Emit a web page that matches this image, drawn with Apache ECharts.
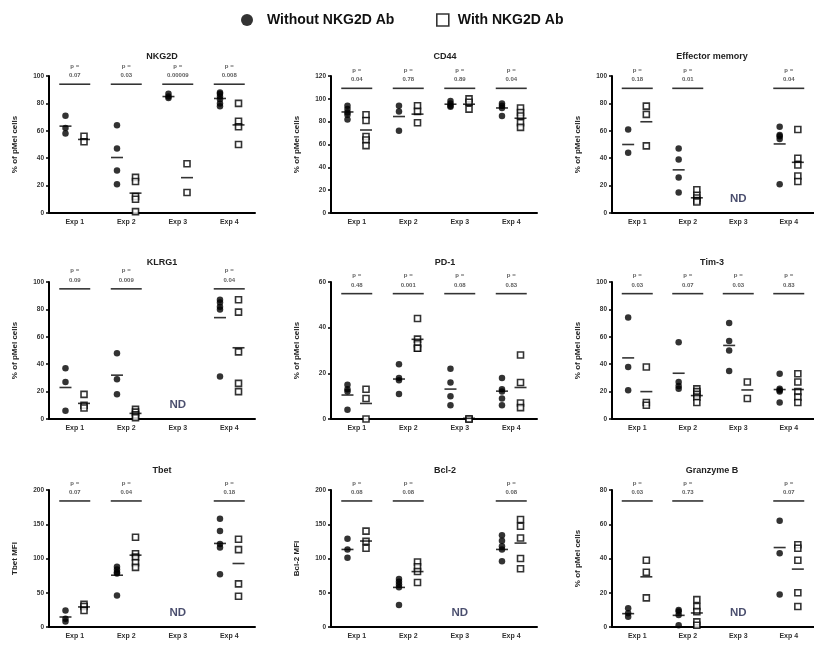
<!DOCTYPE html>
<html><head><meta charset="utf-8">
<script src="https://cdn.jsdelivr.net/npm/echarts/dist/echarts.min.js"></script>
<style>html,body{margin:0;padding:0;background:#fff}#c{width:814px;height:646px}</style>
</head><body><div id="c"></div>
<script>
const categories = ['Exp 1','Exp 2','Exp 3','Exp 4'];
const seriesNames = ['Without NKG2D Ab','With NKG2D Ab'];
const panelTitles = ['NKG2D','CD44','Effector memory','KLRG1','PD-1','Tim-3','Tbet','Bcl-2','Granzyme B'];
const yAxisNames = ['% of pMel cells','% of pMel cells','% of pMel cells','% of pMel cells','% of pMel cells','% of pMel cells','Tbet MFI','Bcl-2 MFI','% of pMel cells'];
const yMaxValues = [100,120,100,100,60,100,200,200,80];
const yTickSteps = [20,20,20,20,20,20,50,50,20];

// NKG2D
const nkg2dWithout = [[71,62,58],[64,47,31,21],[87,85,84],[88,87,85,83,80,78]];
const nkg2dWith = [[56,52],[26,23,12,10,1],[36,15],[80,67,63,50]];
const nkg2dMeanWithout = [63.4,40.5,85,83.6];
const nkg2dMeanWith = [53.7,14.5,25.8,64.3];
const nkg2dP = ['0.07','0.03','0.00009','0.008'];
// CD44
const cd44Without = [[94,91,88,86,82],[94,89,72],[98,96,94,93],[96,94,92,85]];
const cd44With = [[86,81,67,64,59],[94,89,79],[100,97,91],[92,88,85,79,75]];
const cd44MeanWithout = [88.5,84.5,95.3,92];
const cd44MeanWith = [72.7,86.6,95.3,83];
const cd44P = ['0.04','0.78','0.89','0.04'];
// Effector memory
const emWithout = [[61,44],[47,39,26,15],[],[63,57,56,54,21]];
const emWith = [[78,72,49],[17,13,11,9,8],[],[61,40,35,27,23]];
const emMeanWithout = [50,31.5,null,50.4];
const emMeanWith = [66.6,11.1,null,37];
const emP = ['0.18','0.01',null,'0.04'];
// KLRG1
const klrg1Without = [[37,27,6],[48,29,18],[],[87,85,82,80,31]];
const klrg1With = [[18,10,8],[7,5,3,1],[],[87,78,49,26,20]];
const klrg1MeanWithout = [23,32,null,74];
const klrg1MeanWith = [11.4,4.1,null,52];
const klrg1P = ['0.09','0.009',null,'0.04'];
// PD-1
const pd1Without = [[15,13,12,4],[24,18,17,11],[22,16,10,6],[18,13,12,9,6]];
const pd1With = [[13,9,0],[44,35,33,31,31],[0,0],[28,16,7,5]];
const pd1MeanWithout = [10.5,17.5,13.1,12.2];
const pd1MeanWith = [6.8,34.9,0.3,13.8];
const pd1P = ['0.48','0.001','0.08','0.83'];
// Tim-3
const tim3Without = [[74,38,21],[56,27,24,22],[70,57,50,35],[33,22,21,20,12]];
const tim3With = [[38,12,10],[22,20,18,16,12],[27,15],[33,27,20,16,12]];
const tim3MeanWithout = [44.6,33.4,53.7,21.5];
const tim3MeanWith = [20,17.1,21.2,21.5];
const tim3P = ['0.03','0.07','0.03','0.83'];
// Tbet
const tbetWithout = [[24,12,8],[88,84,80,78,46],[],[158,140,121,116,77]];
const tbetWith = [[33,30,24],[131,107,102,94,87],[],[128,113,63,45]];
const tbetMeanWithout = [14.6,75.6,null,122];
const tbetMeanWith = [29.3,104.9,null,92.7];
const tbetP = ['0.07','0.04',null,'0.18'];
// Bcl-2
const bcl2Without = [[129,113,101],[70,66,62,58,32],[],[134,126,118,113,96]];
const bcl2With = [[140,125,115],[95,88,81,65],[],[157,147,130,100,85]];
const bcl2MeanWithout = [113.2,57.8,null,113.2];
const bcl2MeanWith = [125.5,80.9,null,122.5];
const bcl2P = ['0.08','0.08',null,'0.08'];
// Granzyme B
const gzmbWithout = [[11,8,6],[10,9,7,1],[],[62,43,19]];
const gzmbWith = [[39,32,17],[16,12,9,3,1],[],[48,46,39,20,12]];
const gzmbMeanWithout = [7.8,6.8,null,46.4];
const gzmbMeanWith = [29.3,8.2,null,33.8];
const gzmbP = ['0.03','0.73',null,'0.07'];

const panels = [
  [nkg2dWithout,nkg2dWith,nkg2dMeanWithout,nkg2dMeanWith,nkg2dP],
  [cd44Without,cd44With,cd44MeanWithout,cd44MeanWith,cd44P],
  [emWithout,emWith,emMeanWithout,emMeanWith,emP],
  [klrg1Without,klrg1With,klrg1MeanWithout,klrg1MeanWith,klrg1P],
  [pd1Without,pd1With,pd1MeanWithout,pd1MeanWith,pd1P],
  [tim3Without,tim3With,tim3MeanWithout,tim3MeanWith,tim3P],
  [tbetWithout,tbetWith,tbetMeanWithout,tbetMeanWith,tbetP],
  [bcl2Without,bcl2With,bcl2MeanWithout,bcl2MeanWith,bcl2P],
  [gzmbWithout,gzmbWith,gzmbMeanWithout,gzmbMeanWith,gzmbP]
];

// layout
const colLeft = [49,331,612], colWidth = [206,206,207];
const titleCenter = [157,440,707];
const rowTop = [76,282,490], rowHeight = 137;
const titleTop = [47,253,461];
const bracketFrac = [0.94,0.91,0.91,0.95,0.915,0.915,0.92,0.92,0.92];
const off = 0.18;

const grid=[], xAxis=[], yAxis=[], series=[], title=[];
const txt = '#222';
panels.forEach((p,k)=>{
  const r = Math.floor(k/3), c = k%3;
  const [wo, wi, mwo, mwi, pv] = p;
  const max = yMaxValues[k];
  grid.push({left:colLeft[c], top:rowTop[r], width:colWidth[c], height:rowHeight});
  title.push({text:panelTitles[k], left:titleCenter[c], top:titleTop[r], textAlign:'center',
    textStyle:{fontSize:9, fontWeight:'bold', color:txt, fontFamily:'Liberation Sans'}});
  xAxis.push({type:'category', gridIndex:k, data:categories, boundaryGap:true,
    axisLine:{lineStyle:{color:'#000',width:2}},
    axisTick:{alignWithLabel:true,length:3,lineStyle:{color:'#000',width:1.5}},
    axisLabel:{fontSize:7,fontWeight:'bold',color:'#333',margin:6,fontFamily:'Liberation Sans'}});
  xAxis.push({type:'value', gridIndex:k, min:0, max:4, show:false});
  yAxis.push({type:'value', gridIndex:k, min:0, max:max, interval:yTickSteps[k],
    name:yAxisNames[k], nameLocation:'middle', nameGap:30,
    nameTextStyle:{fontSize:8,fontWeight:'bold',color:txt,fontFamily:'Liberation Sans'},
    axisLine:{show:true,lineStyle:{color:'#000',width:2}},
    axisTick:{show:true,length:3,lineStyle:{color:'#000',width:1.5}},
    axisLabel:{fontSize:6.5,fontWeight:'bold',color:'#333',margin:5,fontFamily:'Liberation Sans'},
    splitLine:{show:false}});
  const xi = 2*k+1;
  const dWo=[], dWi=[], dM=[], dB=[], dND=[];
  categories.forEach((cat,i)=>{
    wo[i].forEach(v=>dWo.push([i+0.5-off, v]));
    wi[i].forEach(v=>dWi.push([i+0.5+off, v]));
    if (mwo[i]!=null) dM.push([i+0.5-off, mwo[i]]);
    if (mwi[i]!=null) dM.push([i+0.5+off, mwi[i]]);
    if (pv[i]!=null) dB.push({value:[i+0.5, bracketFrac[k]*max], p:pv[i]});
    if (wo[i].length===0 && wi[i].length===0) dND.push([i+0.5, max*0.1]);
  });
  series.push({type:'scatter', name:seriesNames[0], xAxisIndex:xi, yAxisIndex:k, data:dWo,
    symbol:'circle', symbolSize:6.5, itemStyle:{color:'#000'}, z:3});
  series.push({type:'scatter', name:seriesNames[1], xAxisIndex:xi, yAxisIndex:k, data:dWi,
    symbol:'rect', symbolSize:6, itemStyle:{color:'#fff',borderColor:'#000',borderWidth:1.6}, z:3});
  series.push({type:'scatter', name:'mean', xAxisIndex:xi, yAxisIndex:k, data:dM,
    symbol:'rect', symbolSize:[12,1.6], itemStyle:{color:'#000'}, z:4});
  series.push({type:'scatter', name:'p', xAxisIndex:xi, yAxisIndex:k, data:dB,
    symbol:'rect', symbolSize:[31,1.6], itemStyle:{color:'#000'}, z:4,
    label:{show:true, position:'top', distance:3, fontSize:6, lineHeight:9.5, fontWeight:'bold',
      color:'#333', fontFamily:'Liberation Sans', formatter:(d)=>'p =\n'+d.data.p}});
  if (dND.length) series.push({type:'scatter', name:'nd', xAxisIndex:xi, yAxisIndex:k, data:dND,
    symbol:'circle', symbolSize:0.1, itemStyle:{color:'rgba(0,0,0,0)'},
    label:{show:true, position:'inside', formatter:'ND', fontSize:11.5, fontWeight:'bold', color:'#1c2148', fontFamily:'Liberation Sans'}});
});

const chart = echarts.init(document.getElementById('c'));
chart.setOption({
  animation:false,
  title:title,
  legend:[
    {data:[seriesNames[0]], left:236, top:8, itemWidth:12, itemHeight:12, icon:'circle',
      itemStyle:{color:'#000'}, selectedMode:false,
      textStyle:{fontSize:14,fontWeight:'bold',color:'#111',fontFamily:'Liberation Sans',padding:[0,0,0,9]}},
    {data:[seriesNames[1]], left:431, top:8, itemWidth:12, itemHeight:12, icon:'rect',
      itemStyle:{color:'#fff',borderColor:'#000',borderWidth:1.6}, selectedMode:false,
      textStyle:{fontSize:14,fontWeight:'bold',color:'#111',fontFamily:'Liberation Sans',padding:[0,0,0,4]}}
  ],
  grid:grid, xAxis:xAxis, yAxis:yAxis, series:series
});
</script></body></html>
